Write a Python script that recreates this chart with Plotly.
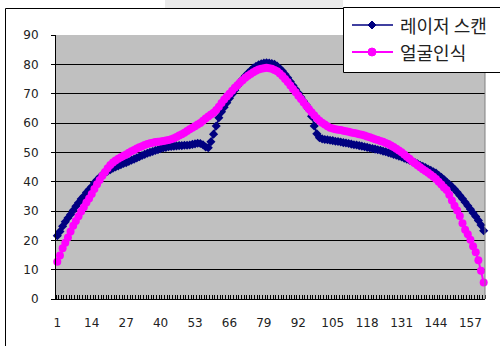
import plotly.graph_objects as go

# Measurement index (1..162) and the two profile series
categories = list(range(1, 163))

laser_scan = [
    21.6, 23.0, 24.8, 26.3, 27.6, 28.8, 30.2, 31.6, 32.8, 34.1,
    35.0, 36.3, 37.3, 38.3, 39.6, 40.6, 41.5, 42.4, 43.0, 43.6,
    44.1, 44.6, 45.0, 45.4, 45.8, 46.2, 46.5, 46.9, 47.3, 47.7,
    48.1, 48.5, 48.9, 49.3, 49.7, 50.0, 50.3, 50.6, 50.9, 51.2,
    51.5, 51.7, 51.9, 52.0, 52.1, 52.2, 52.3, 52.3, 52.4, 52.4,
    52.5, 52.7, 52.9, 53.1, 53.0, 52.6, 51.8, 51.6, 53.6, 56.2,
    59.0, 61.8, 63.8, 65.4, 66.9, 68.4, 69.8, 71.2, 72.6, 73.9,
    75.0, 76.1, 77.0, 77.9, 78.7, 79.3, 79.8, 80.2, 80.4, 80.5,
    80.4, 80.3, 80.0, 79.4, 78.6, 77.7, 76.6, 75.4, 74.1, 72.8,
    71.5, 70.2, 68.8, 67.4, 66.1, 64.6, 62.3, 59.0, 56.3, 55.0,
    54.6, 54.4, 54.3, 54.1, 54.0, 53.8, 53.7, 53.5, 53.3, 53.2,
    53.0, 52.8, 52.6, 52.5, 52.3, 52.1, 51.9, 51.7, 51.5, 51.3,
    51.1, 50.9, 50.7, 50.4, 50.2, 49.9, 49.6, 49.3, 49.0, 48.7,
    48.4, 48.0, 47.7, 47.3, 46.9, 46.5, 46.1, 45.6, 45.2, 44.8,
    44.3, 43.9, 43.4, 42.9, 42.2, 41.5, 40.7, 39.9, 39.1, 38.3,
    37.4, 36.4, 35.3, 34.2, 33.0, 31.8, 30.6, 29.3, 28.1, 26.8,
    25.2, 23.3,
]

face_recognition = [
    12.7, 14.8, 17.3, 19.2, 21.0, 23.0, 25.0, 26.6, 28.2, 29.8,
    31.3, 32.9, 34.3, 35.8, 37.5, 39.1, 40.6, 42.0, 43.3, 44.6,
    45.7, 46.5, 47.2, 47.8, 48.3, 48.8, 49.3, 49.9, 50.4, 50.8,
    51.3, 51.7, 52.1, 52.5, 52.8, 53.1, 53.3, 53.5, 53.6, 53.7,
    53.9, 54.0, 54.2, 54.5, 54.8, 55.2, 55.7, 56.2, 56.7, 57.3,
    57.9, 58.4, 58.9, 59.5, 60.0, 60.8, 61.5, 62.2, 62.9, 63.5,
    64.4, 65.5, 66.8, 68.0, 69.0, 70.0, 71.0, 72.0, 72.9, 73.8,
    74.6, 75.4, 76.1, 76.7, 77.3, 77.8, 78.2, 78.5, 78.7, 78.8,
    78.7, 78.5, 78.1, 77.6, 76.9, 76.0, 75.0, 74.0, 72.8, 71.6,
    70.5, 69.3, 68.2, 67.0, 65.9, 64.8, 63.7, 62.6, 61.6, 60.8,
    60.1, 59.5, 58.9, 58.4, 58.1, 57.9, 57.7, 57.6, 57.4, 57.2,
    57.0, 56.8, 56.6, 56.4, 56.2, 56.0, 55.7, 55.4, 55.1, 54.8,
    54.5, 54.2, 53.9, 53.6, 53.2, 52.8, 52.3, 51.8, 51.2, 50.6,
    50.0, 49.3, 48.5, 47.8, 47.0, 46.3, 45.6, 44.9, 44.2, 43.6,
    43.0, 42.4, 41.7, 40.9, 40.0, 39.0, 38.0, 37.2, 35.5, 33.6,
    31.8, 30.2, 28.3, 25.8, 23.6, 22.1, 20.2, 18.0, 15.9, 13.2,
    9.6, 5.6,
]

series_names = ["레이저 스캔", "얼굴인식"]
series_colors = ["#000080", "#FF00FF"]

y_ticks = list(range(0, 100, 10))

# Figure geometry in pixels
FIG_W, FIG_H = 500, 346
L, T, R, B = 56, 35, 15, 47
PW, PH = FIG_W - L - R, FIG_H - T - B


def px(x):
    """Horizontal pixel -> paper coordinate."""
    return (x - L) / PW


def py(y):
    """Vertical pixel (from top) -> paper coordinate."""
    return (T + PH - y) / PH


fig = go.Figure()

fig.add_trace(go.Scatter(
    x=categories, y=laser_scan, name=series_names[0], mode="lines+markers",
    line=dict(color=series_colors[0], width=1.5),
    marker=dict(symbol="diamond", size=7, color=series_colors[0]),
    cliponaxis=False, showlegend=False,
))
fig.add_trace(go.Scatter(
    x=categories, y=face_recognition, name=series_names[1], mode="lines+markers",
    line=dict(color=series_colors[1], width=2),
    marker=dict(symbol="circle", size=8, color=series_colors[1]),
    cliponaxis=False, showlegend=False,
))

tick_font = dict(family="DejaVu Sans", size=12, color="#222222")

fig.update_layout(
    width=FIG_W, height=FIG_H,
    margin=dict(l=L, r=R, t=T, b=B, autoexpand=False),
    paper_bgcolor="white",
    plot_bgcolor="#C0C0C0",
    xaxis=dict(
        range=[0.5, len(categories) + 0.5],
        tickmode="linear", tick0=1, dtick=13,
        ticks="", showgrid=False, zeroline=False,
        showline=True, linecolor="black", linewidth=1,
        tickfont=tick_font, ticklabelstandoff=13,
        minor=dict(ticks="inside", ticklen=4, tick0=0.5, dtick=1,
                   tickcolor="black", tickwidth=1, showgrid=False),
    ),
    yaxis=dict(
        range=[0, 90], tickmode="array", tickvals=y_ticks,
        showgrid=True, gridcolor="black", gridwidth=1, zeroline=False,
        showline=True, linecolor="black", linewidth=1,
        ticks="outside", ticklen=4, tickcolor="black",
        tickfont=tick_font, ticklabelstandoff=10,
    ),
)

shapes = [
    # faint band across the top edge
    dict(type="rect", xref="paper", yref="paper",
         x0=px(165), x1=px(343), y0=py(8), y1=py(0),
         fillcolor="#EAEAEA", line=dict(width=0), layer="below"),
    # chart-area frame
    dict(type="rect", xref="paper", yref="paper",
         x0=px(5.5), x1=px(530), y0=py(400), y1=py(8.5),
         line=dict(color="black", width=1), layer="above"),
    # plot-area right border
    dict(type="line", xref="paper", yref="paper",
         x0=1, x1=1, y0=0, y1=1,
         line=dict(color="#808080", width=1), layer="above"),
    # legend box
    dict(type="rect", xref="paper", yref="paper",
         x0=px(343.5), x1=px(530), y0=py(72.5), y1=py(7.5),
         fillcolor="white", line=dict(color="black", width=1), layer="above"),
]

annotations = []
legend_rows = [25, 52]
for name, color, row, sym in zip(series_names, series_colors, legend_rows,
                                 ["diamond", "circle"]):
    shapes.append(dict(type="line", xref="paper", yref="paper",
                       x0=px(352), x1=px(393), y0=py(row), y1=py(row),
                       line=dict(color=color, width=1.5 if sym == "diamond" else 2),
                       layer="above"))
    cx = 372
    if sym == "diamond":
        r = 4
        path = (f"M{px(cx)},{py(row - r)} L{px(cx + r)},{py(row)} "
                f"L{px(cx)},{py(row + r)} L{px(cx - r)},{py(row)} Z")
        shapes.append(dict(type="path", xref="paper", yref="paper", path=path,
                           fillcolor=color, line=dict(color=color, width=1),
                           layer="above"))
    else:
        r = 4
        shapes.append(dict(type="circle", xref="paper", yref="paper",
                           x0=px(cx - r), x1=px(cx + r),
                           y0=py(row + r), y1=py(row - r),
                           fillcolor=color, line=dict(color=color, width=1),
                           layer="above"))
    annotations.append(dict(
        xref="paper", yref="paper", x=px(398), y=py(row),
        xanchor="left", yanchor="middle", showarrow=False, text=name,
        font=dict(family="Noto Sans CJK KR", size=18, color="#222222"),
    ))

fig.update_layout(shapes=shapes, annotations=annotations)

fig.write_html("out.html")
